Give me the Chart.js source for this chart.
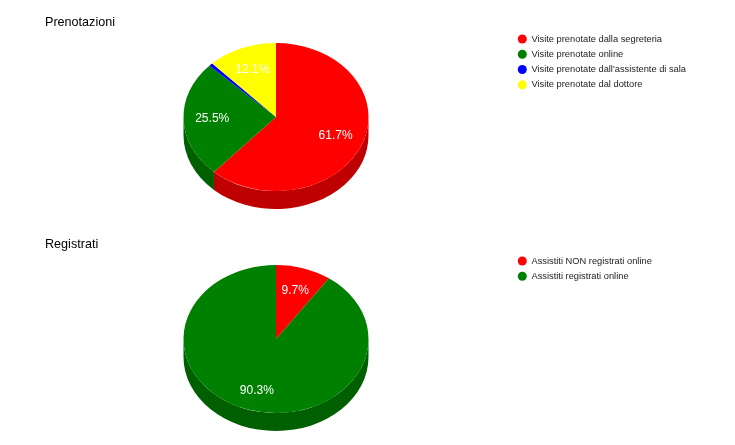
<!DOCTYPE html>
<html lang="it">
<head>
<meta charset="utf-8">
<title>Prenotazioni e registrati</title>
<script src="https://cdn.jsdelivr.net/npm/chart.js@4/dist/chart.umd.min.js"></script>
<style>
    body { margin: 0; background: #fff; }
    .grafico { position: absolute; left: 0; width: 735px; height: 222px; }
    #prenotazioni { top: 0; }
    #registrati { top: 222px; }
</style>
</head>
<body>
<div class="grafico" id="prenotazioni"><canvas id="wykres1" width="735" height="222"></canvas></div>
<div class="grafico" id="registrati"><canvas id="wykres2" width="735" height="222"></canvas></div>
<script>
const titoloPrenotazioni = "Prenotazioni";
const categoriePrenotazioni = [
    "Visite prenotate dalla segreteria",
    "Visite prenotate online",
    "Visite prenotate dall'assistente di sala",
    "Visite prenotate dal dottore"
];
const valoriPrenotazioni = [61.7, 25.5, 0.7, 12.1];
const coloriPrenotazioni = ["#ff0000", "#008000", "#0000ff", "#ffff00"];
const latiPrenotazioni = ["#bf0000", "#006000", "#0000bf", "#bfbf00"];

const titoloRegistrati = "Registrati";
const categorieRegistrati = ["Assistiti NON registrati online", "Assistiti registrati online"];
const valoriRegistrati = [9.7, 90.3];
const coloriRegistrati = ["#ff0000", "#008000"];
const latiRegistrati = ["#bf0000", "#006000"];

const FONT = "Arial, 'Liberation Sans', sans-serif";
const SCHIACCIAMENTO = 0.8; // altezza/larghezza della torta
const SPESSORE = 18;
const SOGLIA_ETICHETTA = 5; // sotto questa percentuale niente etichetta

// Disegna il fianco e schiaccia la torta per l'effetto 3D
const torta3d = {
    id: "torta3d",
    afterLayout(chart) {
        // la legenda sta a destra, fuori dall'area della torta
        const legenda = chart.legend;
        legenda.left = 511.8;
        legenda.top = 28.3;
        legenda.right = chart.width;
        legenda.bottom = chart.height;
        legenda.adjustHitBoxes();
    },
    beforeDatasetDraw(chart, args, opts) {
        const ctx = chart.ctx;
        const archi = args.meta.data;
        const cx = archi[0].x;
        const cy = archi[0].y;
        archi.forEach((arco, i) => {
            const da = Math.max(arco.startAngle, 0);
            const a = Math.min(arco.endAngle, Math.PI);
            if (a <= da) return;
            const r = arco.outerRadius;
            ctx.fillStyle = opts.lati[i];
            ctx.beginPath();
            ctx.ellipse(cx, cy, r, r * SCHIACCIAMENTO, 0, da, a);
            ctx.ellipse(cx, cy + SPESSORE, r, r * SCHIACCIAMENTO, 0, a, da, true);
            ctx.closePath();
            ctx.fill();
        });
        ctx.save();
        ctx.translate(cx, cy);
        ctx.scale(1, SCHIACCIAMENTO);
        ctx.translate(-cx, -cy);
    },
    afterDatasetDraw(chart, args) {
        const ctx = chart.ctx;
        ctx.restore();
        ctx.save();
        ctx.fillStyle = "#ffffff";
        ctx.font = "12px " + FONT;
        ctx.textAlign = "center";
        ctx.textBaseline = "middle";
        const valori = chart.data.datasets[0].data;
        args.meta.data.forEach((arco, i) => {
            if (valori[i] < SOGLIA_ETICHETTA) return;
            const medio = (arco.startAngle + arco.endAngle) / 2;
            const r = arco.outerRadius * 0.69;
            // le etichette in basso stanno un po' piu' giu'
            const extra = Math.max(0, Math.sin(medio) - 0.5) * 7;
            ctx.fillText(valori[i].toFixed(1) + "%", arco.x + Math.cos(medio) * r, arco.y + Math.sin(medio) * r * SCHIACCIAMENTO + extra);
        });
        ctx.restore();
    }
};

function creaTorta(idCanvas, titolo, categorie, valori, colori, lati) {
    const ctx = document.getElementById(idCanvas).getContext("2d");
    return new Chart(ctx, {
        type: "pie",
        data: {
            labels: categorie,
            datasets: [{
                data: valori,
                backgroundColor: colori,
                borderWidth: 0,
                clip: false
            }]
        },
        plugins: [torta3d],
        options: {
            responsive: false,
            animation: false,
            radius: 92.5,
            layout: { padding: { left: 45, right: 228, top: 15, bottom: 18.1 } },
            plugins: {
                torta3d: { lati: lati },
                title: {
                    display: true,
                    text: titolo,
                    align: "start",
                    color: "#000000",
                    padding: 0,
                    font: { family: FONT, size: 12.6, weight: "normal" }
                },
                legend: {
                    position: "chartArea",
                    align: "start",
                    labels: {
                        usePointStyle: true,
                        boxHeight: 6.4,
                        pointStyleWidth: 9,
                        padding: 6,
                        color: "#222222",
                        font: { family: FONT, size: 9.3 }
                    }
                }
            }
        }
    });
}

creaTorta("wykres1", titoloPrenotazioni, categoriePrenotazioni, valoriPrenotazioni, coloriPrenotazioni, latiPrenotazioni);
creaTorta("wykres2", titoloRegistrati, categorieRegistrati, valoriRegistrati, coloriRegistrati, latiRegistrati);
</script>
</body>
</html>
